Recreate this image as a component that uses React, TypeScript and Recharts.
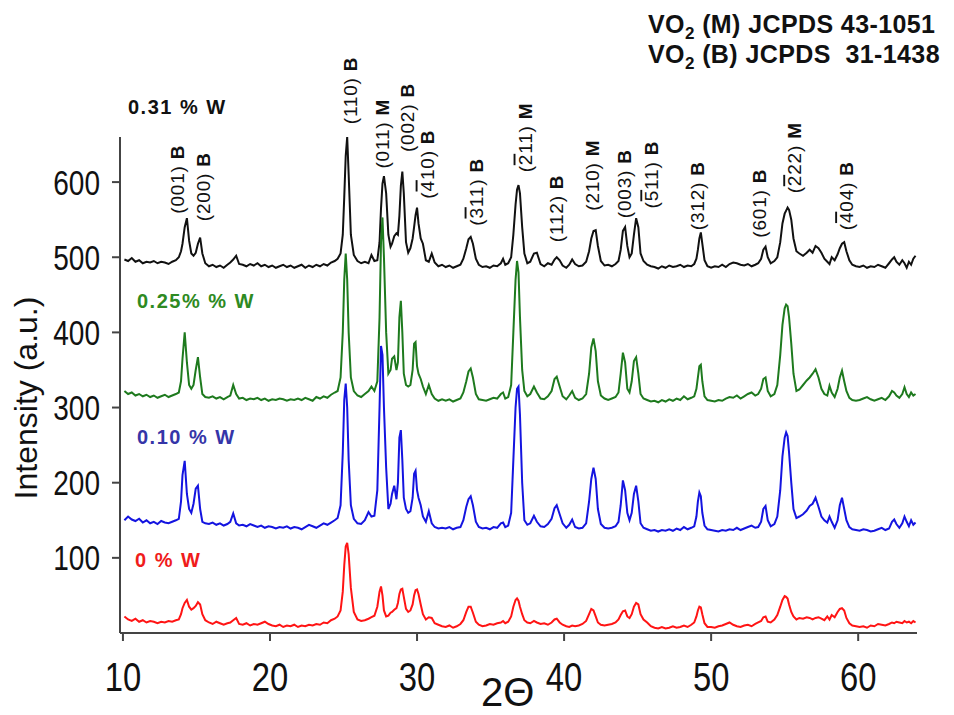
import React from "react";
import { LineChart, Line, XAxis, YAxis, ReferenceDot } from "recharts";

// 2θ grid (degrees), denser around the reflections
const twoTheta = [
  10.1, 10.35, 10.6, 10.85, 11.1, 11.35, 11.6, 11.85, 12.1, 12.35, 12.6, 12.85, 13.1, 13.35, 13.6,
  13.8, 13.95, 14.05, 14.2, 14.35, 14.5, 14.65, 14.8, 14.95, 15.1, 15.25, 15.4, 15.6,
  15.85, 16.1, 16.35, 16.6, 16.85, 17.1, 17.3,
  17.5, 17.7, 17.9,
  18.15, 18.4, 18.65, 18.9, 19.15, 19.4, 19.65, 19.9, 20.15, 20.4,
  20.65, 20.9, 21.15, 21.4, 21.65, 21.9, 22.15, 22.4, 22.65, 22.9,
  23.15, 23.4, 23.65, 23.9, 24.15, 24.4,
  24.6, 24.8, 24.95, 25.05, 25.15, 25.25, 25.35, 25.5, 25.7, 25.95,
  26.2, 26.45, 26.7, 26.9, 27.1, 27.3, 27.45, 27.55, 27.65, 27.75,
  27.9, 28.05, 28.2, 28.3, 28.45, 28.6, 28.7, 28.8, 28.9, 29.0,
  29.1, 29.25, 29.4, 29.55, 29.7, 29.8, 29.9, 30.0, 30.1, 30.25,
  30.4, 30.6, 30.8, 31.0, 31.2, 31.45, 31.7,
  31.95, 32.2, 32.45, 32.7, 32.95,
  33.15, 33.35, 33.5, 33.65, 33.8, 34.0, 34.2,
  34.45, 34.7, 34.95, 35.2, 35.45,
  35.7, 35.85, 36.0, 36.2, 36.4, 36.55, 36.7, 36.8, 36.9, 37.0,
  37.15, 37.3, 37.5, 37.7, 37.95, 38.15, 38.4, 38.65, 38.9, 39.15,
  39.35, 39.5, 39.7, 39.9, 40.15, 40.35, 40.55, 40.75, 41.0, 41.25,
  41.5, 41.7, 41.85, 42.0, 42.15, 42.3, 42.5, 42.75, 43.0, 43.25,
  43.5, 43.7, 43.85, 44.0, 44.15, 44.3, 44.45, 44.6, 44.75, 44.9,
  45.05, 45.2, 45.4, 45.65, 45.9,
  46.15, 46.4, 46.65, 46.9, 47.15, 47.4, 47.65, 47.9, 48.15, 48.4, 48.65,
  48.85, 49.0, 49.1, 49.2, 49.3, 49.4, 49.55, 49.75,
  50.0, 50.25, 50.5, 50.75, 51.0, 51.25, 51.5, 51.75, 52.0, 52.25, 52.5, 52.75, 53.0, 53.2,
  53.4, 53.55, 53.7, 53.85, 54.05, 54.3, 54.5, 54.7, 54.85, 55.0,
  55.1, 55.2, 55.3, 55.45, 55.6, 55.8, 56.0, 56.25, 56.5, 56.7,
  56.9, 57.1, 57.3, 57.5, 57.7, 57.9, 58.05, 58.2, 58.4, 58.6,
  58.75, 58.9, 59.05, 59.2, 59.4, 59.6, 59.85,
  60.1, 60.35, 60.6, 60.85, 61.1, 61.35, 61.6, 61.85, 62.1, 62.3,
  62.45, 62.6, 62.8, 63.0, 63.15, 63.3, 63.45, 63.6, 63.75, 63.9,
];

// 0.31 % W (black, offset)
const w031 = [
  497, 495, 499, 494, 496, 492, 494, 493, 495, 492, 494, 493, 491, 494, 496,
  500, 508, 518, 540, 552, 522, 505, 502, 506, 518, 526, 505, 492,
  488, 490, 487, 489, 486, 490, 493,
  497, 502, 491,
  490, 488, 491, 489, 492, 488, 490, 487, 489, 486,
  488, 490, 487, 489, 486, 488, 490, 486, 489, 487,
  490, 488, 491, 489, 493, 495,
  498, 505, 530, 580, 635, 660, 610, 530, 503, 495,
  492, 494, 492, 503, 495, 496, 520, 565, 598, 608,
  585, 530, 514, 518, 528, 532, 530, 555, 595, 614,
  585, 520, 506, 512, 525, 540, 556, 566, 545, 525,
  518, 496, 494, 505, 493, 488, 490,
  487, 489, 486, 488, 490,
  498, 512, 524, 527, 518, 498, 490,
  487, 488, 486, 489, 488,
  492, 498, 490, 492, 500, 530, 570, 590, 596, 585,
  540, 505, 492, 494, 505, 506, 491, 488, 492, 490,
  497, 500, 496, 489, 486, 490, 497, 491, 488, 489,
  494, 508, 525, 535, 536, 515, 495, 489, 490, 488,
  491, 495, 510, 535, 540, 515, 500, 505, 530, 552,
  540, 505, 495, 490, 488,
  487, 485, 488, 486, 489, 487, 488, 490, 487, 489, 488,
  491, 498, 510, 525, 533, 518, 496, 488,
  486, 488, 487, 490, 487, 491, 493, 492, 490, 489, 491, 488, 490, 492,
  498, 510, 514, 500, 492, 495, 500, 520, 545, 558,
  562, 566, 563, 550, 525, 508, 505, 502, 506, 510,
  506, 515, 512, 506, 498, 494, 491, 500, 496, 504,
  512, 518, 520, 508, 496, 490, 488,
  487, 489, 486, 488, 487, 490, 488, 486, 492, 497,
  500, 494, 490, 496, 492, 486, 494, 490, 498, 502,
];

// 0.25 % W (green, offset)
const w025 = [
  322, 318, 320, 316, 318, 315, 317, 314, 316, 313, 315, 317, 314, 316, 318,
  320, 335, 365, 400, 360, 330, 325, 330, 350, 367, 340, 318, 314,
  313, 315, 312, 314, 311, 314, 316,
  330, 318, 312,
  313, 310, 312, 311, 313, 310, 312, 309, 311, 310,
  312, 311, 309, 311, 310, 312, 310, 313, 311, 309,
  314, 312, 315, 313, 317, 320,
  322, 340, 400, 470, 505, 470, 400, 340, 322, 316,
  314, 318, 322, 328, 322, 335, 420, 520, 553, 500,
  400, 345, 350, 365, 368, 350, 360, 420, 442, 400,
  345, 330, 328, 330, 350, 385, 387, 355, 345, 338,
  328, 318, 330, 318, 312, 309, 311,
  309, 311, 308, 310, 312,
  320, 335, 348, 352, 340, 318, 311,
  310, 309, 311, 313, 312,
  318, 320, 312, 314, 330, 400, 470, 495, 480, 420,
  350, 322, 315, 318, 328, 320, 312, 311, 315, 322,
  338, 341, 328, 315, 311, 316, 322, 313, 310, 312,
  318, 345, 380, 392, 375, 335, 316, 312, 310, 312,
  314, 320, 345, 373, 360, 325, 320, 335, 362, 367,
  345, 318, 312, 310, 308,
  309, 307, 310, 308, 311, 309, 312, 310, 315, 311, 313,
  315, 325, 340, 355, 357, 335, 315, 310,
  309, 308, 310, 309, 312, 314, 313, 316, 312, 315, 318, 320, 316, 318,
  325, 338, 340, 322, 315, 318, 330, 370, 410, 432,
  437, 435, 420, 385, 345, 322, 324, 330, 336, 340,
  345, 351, 340, 325, 318, 316, 329, 320, 314, 325,
  340, 349, 335, 322, 313, 310, 309,
  310, 312, 314, 311, 309, 311, 313, 310, 315, 322,
  320, 316, 313, 318, 327, 318, 314, 320, 316, 318,
];

// 0.10 % W (blue, offset)
const w010 = [
  150, 155, 151, 149, 152, 147, 150, 146, 148, 145, 149, 147, 146, 148, 150,
  152, 175, 210, 229, 185, 165, 160, 172, 192, 196, 165, 148, 146,
  145, 147, 144, 146, 143, 145, 148,
  159, 146, 143,
  144, 142, 145, 143, 141, 143, 140, 142, 141, 139,
  141, 140, 142, 139, 141, 140, 138, 141, 144, 142,
  140, 143, 146, 144, 147, 150,
  153, 170, 240, 310, 332, 300, 230, 170, 152, 146,
  145, 150, 161, 155, 156, 190, 300, 382, 370, 300,
  220, 165, 172, 185, 196, 178, 200, 260, 270, 230,
  180, 165, 160, 162, 180, 212, 216, 190, 180, 170,
  155, 148, 162, 146, 141, 139, 140,
  139, 141, 138, 140, 141,
  150, 168, 178, 182, 170, 148, 141,
  139, 140, 138, 141, 140,
  146, 147, 141, 143, 160, 230, 300, 325, 328, 290,
  200, 150, 144, 146, 156, 148, 142, 141, 145, 152,
  166, 170, 158, 146, 140, 144, 151, 141, 139, 140,
  146, 175, 205, 220, 205, 165, 145, 140, 139, 140,
  142, 148, 170, 203, 190, 160, 150, 160, 185, 196,
  175, 146, 140, 138, 136,
  137, 135, 137, 136, 138, 136, 139, 137, 141, 138, 140,
  142, 155, 175, 187, 182, 160, 143, 138,
  137, 136, 135, 137, 136, 138, 137, 140, 137, 139, 141, 143, 140, 141,
  148, 165, 169, 150, 142, 145, 155, 190, 235, 260,
  267, 262, 240, 200, 165, 153, 155, 158, 163, 169,
  172, 180, 168, 155, 150, 147, 155, 148, 140, 150,
  170, 180, 165, 150, 141, 138, 137,
  136, 138, 137, 135, 136, 138, 140, 137, 139, 148,
  151, 145, 140, 146, 155, 148, 142, 150, 144, 147,
];

// 0 % W (red)
const w000 = [
  22, 18, 16, 19, 15, 17, 14, 16, 15, 13, 15, 14, 16, 15, 17,
  18, 25, 33, 40, 44, 35, 31, 33, 36, 41, 38, 25, 17,
  14, 12, 15, 13, 11, 13, 14,
  17, 20, 12,
  11, 13, 10, 12, 11, 13, 15, 12, 10, 9,
  11, 8, 10, 9, 11, 8, 10, 9, 11, 10,
  12, 11, 14, 13, 17, 19,
  22, 30, 55, 90, 115, 120, 105, 60, 28, 18,
  16, 17, 19, 21, 23, 35, 55, 62, 50, 30,
  22, 23, 27, 28, 31, 33, 40, 52, 58, 59,
  48, 32, 28, 30, 38, 50, 57, 58, 52, 38,
  25, 18, 21, 20, 13, 11, 9,
  8, 10, 7, 9, 12,
  17, 28, 35, 35, 27, 15, 11,
  9, 10, 12, 11, 13,
  14, 16, 13, 15, 22, 35, 44, 46, 43, 35,
  25, 17, 14, 13, 16, 14, 12, 13, 11, 14,
  18, 19, 14, 11, 9, 8, 10, 9, 10, 12,
  16, 25, 32, 30, 22, 14, 11, 10, 11, 12,
  14, 18, 24, 29, 30, 22, 20, 25, 35, 40,
  38, 25, 18, 14, 9,
  7, 6, 8, 6, 7, 9, 7, 8, 10, 8, 11,
  14, 22, 30, 35, 34, 25, 13, 8,
  8, 7, 9, 10, 12, 14, 11, 9, 8, 10, 11, 9, 12, 14,
  16, 21, 22, 15, 14, 18, 24, 35, 44, 49,
  48, 46, 38, 28, 22, 18, 20, 19, 21, 20,
  18, 20, 21, 19, 17, 22, 18, 24, 21, 28,
  32, 33, 30, 20, 13, 10, 9,
  8, 9, 7, 10, 9, 12, 11, 10, 12, 14,
  13, 15, 14, 13, 16, 14, 15, 13, 16, 14,
];

// reflection labels ("-" puts a bar over the next digit), phase, and label foot (2θ, intensity)
const peakHkl = [
  "(001)", "(200)", "(110)", "(011)", "(002)", "(-410)", "(-311)", "(-211)",
  "(112)", "(210)", "(003)", "(-511)", "(312)", "(601)", "(-222)", "(-404)",
];
const peakPhase = ["B", "B", "B", "M", "B", "B", "B", "M", "B", "M", "B", "B", "B", "B", "M", "B"];
const peakTheta = [14.14, 15.91, 25.9, 28.07, 29.77, 31.13, 34.46, 37.79, 39.96, 42.4, 44.57, 46.41, 49.54, 53.74, 56.13, 59.66];
const peakFoot = [558, 548, 677, 618, 640, 578, 542, 613, 520, 562, 552, 565, 536, 526, 585, 536];

const xTicks = [10, 20, 30, 40, 50, 60];
const yTicks = [100, 200, 300, 400, 500, 600];

const FONT = '"Liberation Sans", Arial, sans-serif';
const AXIS = "#444";

const data = twoTheta.map((t, i) => ({
  t,
  w031: w031[i],
  w025: w025[i],
  w010: w010[i],
  w000: w000[i],
}));

// Arial-like digits squeezed horizontally, like the narrow face in the original
function NarrowTick({ x, y, payload, size, anchor, dy }: any) {
  return (
    <g transform={`translate(${x} ${y}) scale(0.8 1)`}>
      <text x={0} y={0} dy={dy} textAnchor={anchor} fontFamily={FONT} fontSize={size} fill="#111">
        {payload?.value}
      </text>
    </g>
  );
}

function Hkl({ text }: { text: string }) {
  const parts: React.ReactNode[] = [];
  for (let i = 0; i < text.length; i++) {
    if (text[i] === "-" && i + 1 < text.length) {
      parts.push(
        <tspan key={i} style={{ textDecoration: "overline" }}>
          {text[i + 1]}
        </tspan>,
      );
      i++;
    } else {
      parts.push(text[i]);
    }
  }
  return <>{parts}</>;
}

function PeakLabel({ cx, cy, hkl, phase }: { cx?: number; cy?: number; hkl: string; phase: string }) {
  if (cx == null || cy == null) return null;
  return (
    <text
      x={cx}
      y={cy}
      transform={`rotate(-90 ${cx} ${cy})`}
      fontFamily={FONT}
      fontSize={19}
      letterSpacing={0.8}
      fill="#111"
    >
      <Hkl text={hkl} />
      {" "}
      <tspan fontWeight="bold">{phase}</tspan>
    </text>
  );
}

export default function App() {
  const seriesLabel = { fontFamily: FONT, fontSize: 20, fontWeight: "bold" as const, letterSpacing: 1.5 };
  return (
    <div style={{ position: "absolute", left: 0, top: 0, width: 954, height: 715, background: "#fff" }}>
      <LineChart width={954} height={715} data={data} margin={{ top: 137, right: 37, bottom: 32, left: 50 }}>
        <XAxis
          type="number"
          dataKey="t"
          domain={[9.8, 64]}
          ticks={xTicks}
          allowDataOverflow
          height={50}
          tickSize={8}
          tickMargin={21}
          axisLine={{ stroke: AXIS, strokeWidth: 2 }}
          tickLine={{ stroke: AXIS, strokeWidth: 2 }}
          tick={(p: any) => <NarrowTick {...p} size={41} anchor="middle" dy="0.71em" />}
        />
        <YAxis
          type="number"
          domain={[0, 660]}
          ticks={yTicks}
          allowDataOverflow
          width={70}
          tickSize={8}
          tickMargin={12}
          axisLine={{ stroke: AXIS, strokeWidth: 2 }}
          tickLine={{ stroke: AXIS, strokeWidth: 2 }}
          tick={(p: any) => <NarrowTick {...p} size={35} anchor="end" dy="0.355em" />}
        />
        <Line type="linear" dataKey="w031" stroke="#111111" strokeWidth={2} dot={false} isAnimationActive={false} />
        <Line type="linear" dataKey="w025" stroke="#1e7a1e" strokeWidth={2} dot={false} isAnimationActive={false} />
        <Line type="linear" dataKey="w010" stroke="#1414e0" strokeWidth={2} dot={false} isAnimationActive={false} />
        <Line type="linear" dataKey="w000" stroke="#ff1414" strokeWidth={2} dot={false} isAnimationActive={false} />
        {peakTheta.map((t, i) => (
          <ReferenceDot
            key={i}
            x={t}
            y={peakFoot[i]}
            r={0}
            ifOverflow="visible"
            shape={(p: any) => <PeakLabel cx={p.cx} cy={p.cy} hkl={peakHkl[i]} phase={peakPhase[i]} />}
          />
        ))}
      </LineChart>
      <svg
        width={954}
        height={715}
        style={{ position: "absolute", left: 0, top: 0, pointerEvents: "none" }}
      >
        <g fontFamily={FONT} fontWeight="bold" fontSize={25} fill="#111" letterSpacing={0.4}>
          <text x={648} y={33} xmlSpace="preserve">
            VO<tspan dy={6} fontSize={17}>2</tspan>
            <tspan dy={-6}>{" (M) JCPDS 43-1051"}</tspan>
          </text>
          <text x={648} y={63} xmlSpace="preserve">
            VO<tspan dy={6} fontSize={17}>2</tspan>
            <tspan dy={-6}>{" (B) JCPDS  31-1438"}</tspan>
          </text>
        </g>
        <text x={128} y={114} fill="#111" {...seriesLabel}>0.31 % W</text>
        <text x={137} y={308} fill="#2e8a22" {...seriesLabel}>0.25% % W</text>
        <text x={137} y={444} fill="#3535a8" {...seriesLabel}>0.10 % W</text>
        <text x={135} y={567} fill="#f01c1c" {...seriesLabel}>0 % W</text>
        <text
          x={37}
          y={398}
          transform="rotate(-90 37 398)"
          textAnchor="middle"
          fontFamily={FONT}
          fontSize={32}
          fill="#111"
        >
          Intensity (a.u.)
        </text>
        <text x={481} y={706} fontFamily={FONT} fontSize={40} fill="#111">
          2Θ
        </text>
      </svg>
    </div>
  );
}
